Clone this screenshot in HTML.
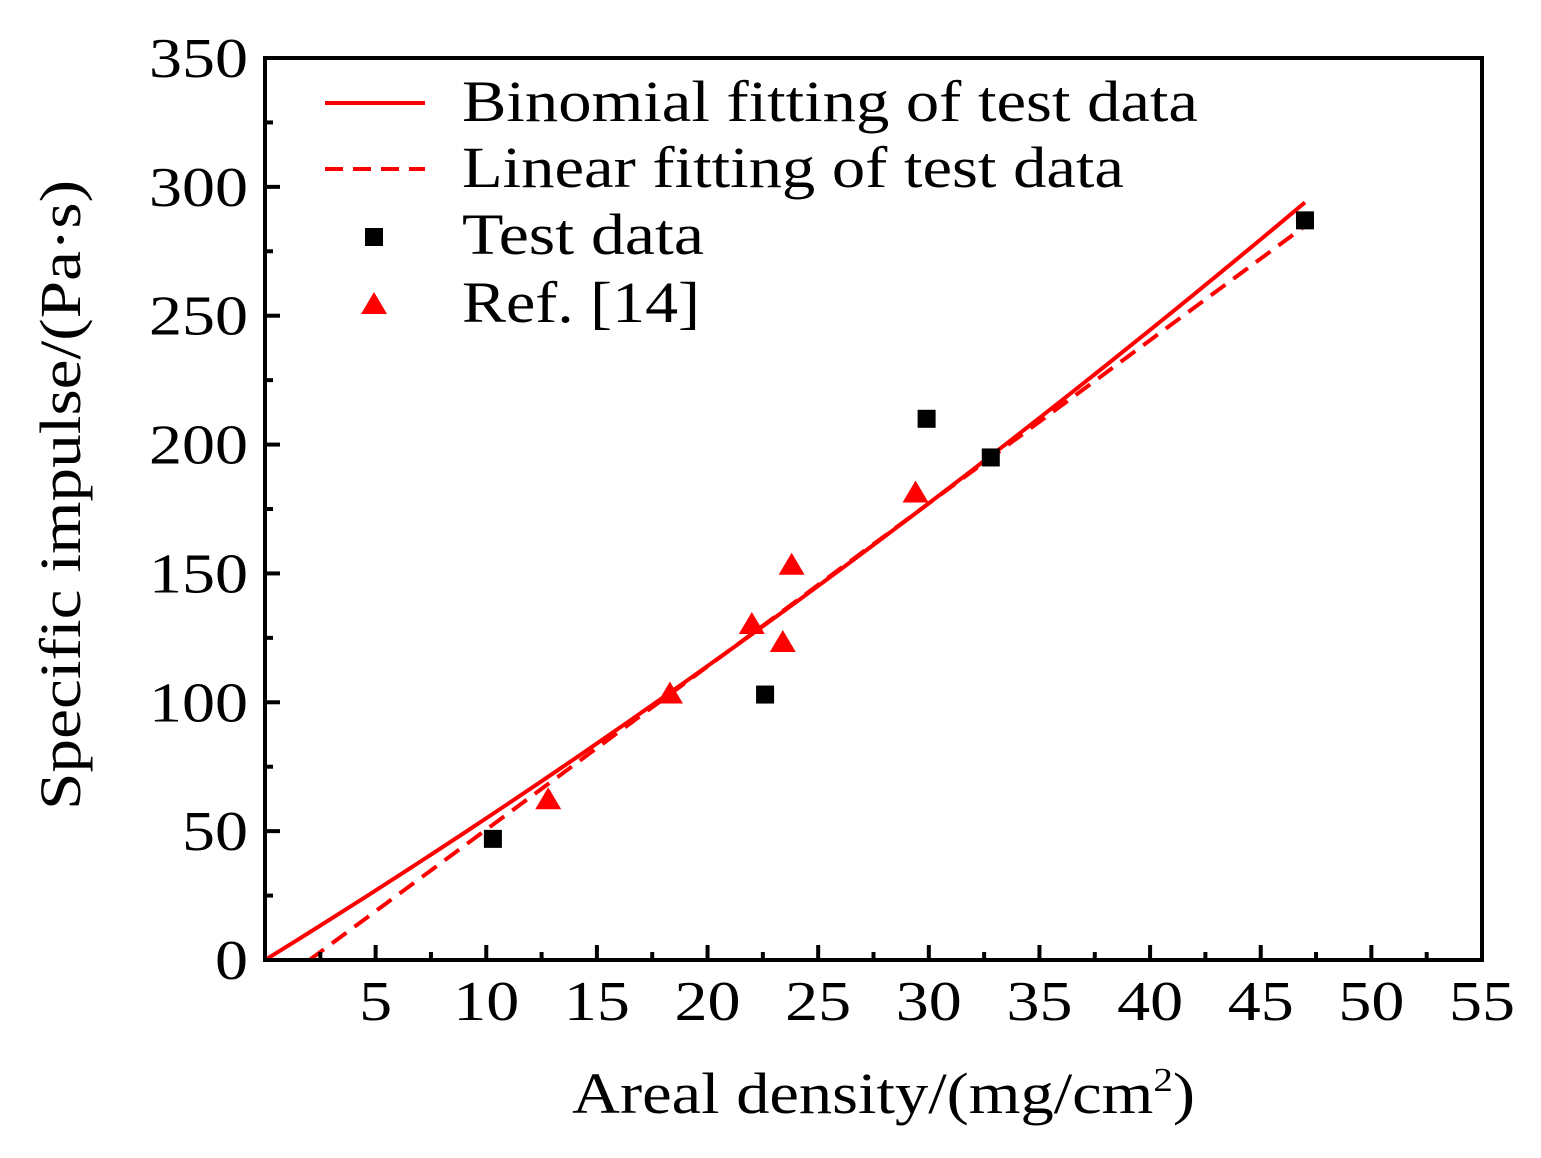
<!DOCTYPE html>
<html><head><meta charset="utf-8"><style>
body{margin:0;background:#fff}
text{font-family:"Liberation Serif",serif;fill:#000}
</style></head><body>
<svg id="chart" width="1541" height="1153" viewBox="0 0 1541 1153" xmlns="http://www.w3.org/2000/svg">
<g id="marks"></g>
<rect x="265" y="58" width="1217" height="902" fill="none" stroke="#000" stroke-width="4"/>
<g id="axes"></g>
<text x="572" y="1113" font-size="58" textLength="623" lengthAdjust="spacingAndGlyphs">Areal density/(mg/cm<tspan font-size="34" dy="-22">2</tspan><tspan dy="22">)</tspan></text>
<text transform="translate(80,810) rotate(-90)" font-size="58" textLength="630" lengthAdjust="spacingAndGlyphs">Specific impulse/(Pa·s)</text>
<g>
<line x1="325" y1="103" x2="425" y2="103" stroke="#f00" stroke-width="4"/>
<text x="462" y="121" font-size="58" textLength="736" lengthAdjust="spacingAndGlyphs">Binomial fitting of test data</text>
<line x1="325" y1="169" x2="425" y2="169" stroke="#f00" stroke-width="4" stroke-dasharray="18,10"/>
<text x="462" y="187" font-size="58" textLength="662" lengthAdjust="spacingAndGlyphs">Linear fitting of test data</text>
<rect x="365" y="228" width="18" height="18" fill="#000"/>
<text x="462" y="254" font-size="58" textLength="242" lengthAdjust="spacingAndGlyphs">Test data</text>
<polygon points="374,292 387,314 361,314" fill="#f00"/>
<text x="462" y="322" font-size="58" textLength="238" lengthAdjust="spacingAndGlyphs">Ref. [14]</text>
</g>
</svg>
<script>
const xTicks=[5,10,15,20,25,30,35,40,45,50,55];
const yTicks=[0,50,100,150,200,250,300,350];
const testX=[10.3,22.6,29.9,32.8,47];
const testY=[47,103,210,195,287];
const refX=[12.8,18.3,22,23.4,23.8,29.4];
const refY=[62,103,130,123,153,181];
const binomA=5.296, binomB=0.0204;
const linSlope=6.33, linIntercept=-12.7;
const fitRange=[0,47];
const X=v=>265+v*(1217/55), Y=v=>960-v*(902/350);
const ns="http://www.w3.org/2000/svg";
const ax=document.getElementById('axes'), mk=document.getElementById('marks');
function el(t,a,p){const e=document.createElementNS(ns,t);for(const k in a)e.setAttribute(k,a[k]);p.appendChild(e);return e;}
for(let v=2.5;v<55;v+=2.5){const major=v%5===0;const t=el('line',{x1:X(v),x2:X(v),y1:960,y2:960-(major?15:8),stroke:'#000','stroke-width':4},ax);

}
xTicks.forEach(v=>{const s=String(v);const w=s.length*33;const t=el('text',{x:X(v)-w/2,y:1020,'font-size':56,textLength:w,lengthAdjust:'spacingAndGlyphs'},ax);t.textContent=s;

});
for(let v=25;v<350;v+=25){const major=v%50===0;const t=el('line',{x1:265,x2:265+(major?15:8),y1:Y(v),y2:Y(v),stroke:'#000','stroke-width':4},ax);

}
yTicks.forEach(v=>{const s=String(v);const w=s.length*33;const t=el('text',{x:248-w,y:Y(v)+19,'font-size':56,textLength:w,lengthAdjust:'spacingAndGlyphs'},ax);t.textContent=s;

});
let pts=[];for(let x=fitRange[0];x<=fitRange[1]+0.001;x+=0.5)pts.push(X(x)+','+Y(binomA*x+binomB*x*x));
const b=el('polyline',{points:pts.join(' '),fill:'none',stroke:'#f00','stroke-width':4},mk);


const x0=-linIntercept/linSlope;
const l=el('line',{x1:X(x0),y1:Y(0),x2:X(fitRange[1]),y2:Y(linSlope*fitRange[1]+linIntercept),stroke:'#f00','stroke-width':4,'stroke-dasharray':'18,10'},mk);


testX.forEach((x,i)=>{const r=el('rect',{x:X(x)-9,y:Y(testY[i])-9,width:18,height:18,fill:'#000'},mk);

});
refX.forEach((x,i)=>{const cx=X(x),cy=Y(refY[i]);const p=el('polygon',{points:`${cx},${cy-13} ${cx+13},${cy+9} ${cx-13},${cy+9}`,fill:'#f00'},mk);

});
</script>
</body></html>
